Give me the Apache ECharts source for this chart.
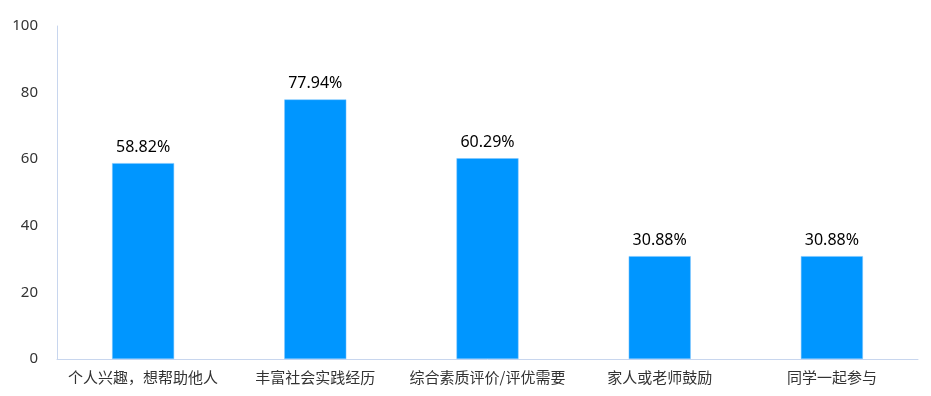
<!DOCTYPE html>
<html><head><meta charset="utf-8">
<script src="https://cdn.jsdelivr.net/npm/echarts@6/dist/echarts.min.js"></script>
<style>html,body{margin:0;padding:0;background:#fff}#c{width:931px;height:396px}</style>
</head><body><div id="c"></div>
<script>
const categories = ['个人兴趣，想帮助他人','丰富社会实践经历','综合素质评价/评优需要','家人或老师鼓励','同学一起参与'];
const values = [58.82, 77.94, 60.29, 30.88, 30.88];
const yTicks = {min:0, max:100, interval:20};
const chart = echarts.init(document.getElementById('c'));
chart.setOption({
  animation:false,
  grid:{left:57, right:13, top:26, bottom:37},
  xAxis:{type:'category', data:categories,
    axisLine:{lineStyle:{color:'#c8d6ee'}}, axisTick:{show:false},
    axisLabel:{color:'#333', fontSize:15, margin:11, interval:0, fontFamily:'Noto Sans CJK SC'}},
  yAxis:{type:'value', min:yTicks.min, max:yTicks.max, interval:yTicks.interval,
    axisLine:{show:true, lineStyle:{color:'#c8d6ee'}}, axisTick:{show:false},
    splitLine:{show:false},
    axisLabel:{color:'#333', fontSize:15, margin:19, fontFamily:'Noto Sans'}},
  series:[{type:'bar', data:values, barWidth:'36%', itemStyle:{color:'#0096ff', borderColor:'#7cc4ff', borderWidth:0.5},
    label:{show:true, position:'top', distance:8, color:'#000', fontSize:16, fontFamily:'Noto Sans',
      formatter:p=>p.value.toFixed(2)+'%'}}]
});
</script></body></html>
